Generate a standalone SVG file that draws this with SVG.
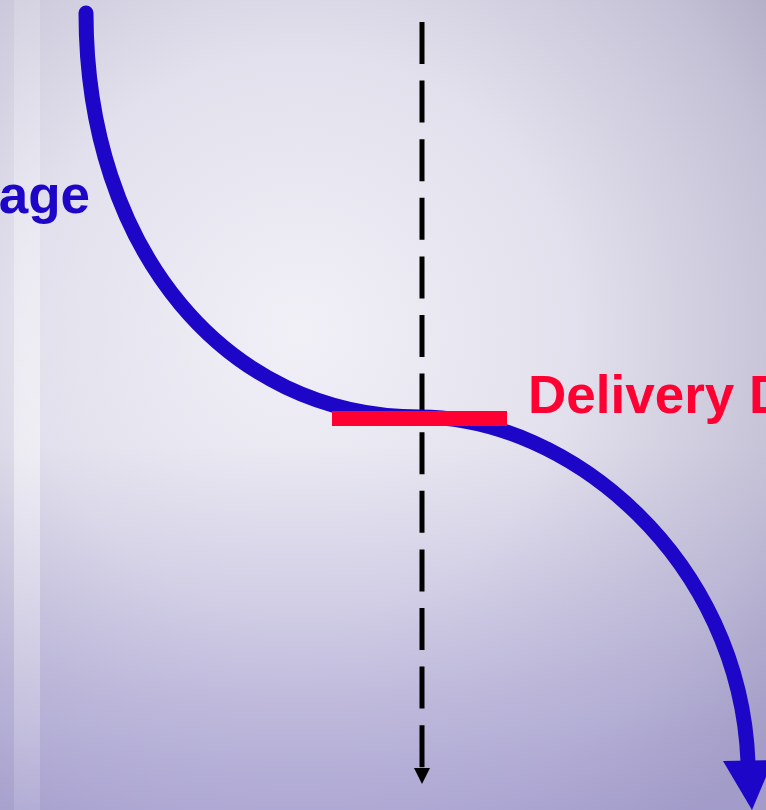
<svg xmlns="http://www.w3.org/2000/svg" width="766" height="810" viewBox="0 0 766 810">
  <defs>
    <radialGradient id="bg" cx="300" cy="330" r="620" gradientUnits="userSpaceOnUse">
      <stop offset="0" stop-color="#f1f0f7"/>
      <stop offset="0.45" stop-color="#e2e0ec"/>
      <stop offset="0.8" stop-color="#c4c1d6"/>
      <stop offset="1" stop-color="#a9a5bf"/>
    </radialGradient>
    <linearGradient id="bottom" x1="0" y1="0" x2="0" y2="1">
      <stop offset="0.55" stop-color="#9c94d2" stop-opacity="0"/>
      <stop offset="1" stop-color="#9c94d2" stop-opacity="0.55"/>
    </linearGradient>
    <linearGradient id="stripe" x1="0" y1="0" x2="0" y2="1">
      <stop offset="0" stop-color="#ffffff" stop-opacity="0.15"/>
      <stop offset="0.55" stop-color="#ffffff" stop-opacity="0.45"/>
      <stop offset="1" stop-color="#ffffff" stop-opacity="0.12"/>
    </linearGradient>
    <style>
      .label { font-family: "Liberation Sans", Arial, sans-serif; font-weight: bold; font-size: 53px; }
      .curve { fill: none; stroke: #1e06c8; stroke-width: 15; stroke-linecap: round; }
      .dash { fill: none; stroke: #000000; stroke-width: 5; stroke-dasharray: 42 16.6; }
    </style>
  </defs>
  <rect x="0" y="0" width="766" height="810" fill="url(#bg)"/>
  <rect x="0" y="0" width="766" height="810" fill="url(#bottom)"/>
  <rect x="14" y="0" width="26" height="810" fill="url(#stripe)"/>

  <g id="connectors">
    <path class="dash" d="M422,22 L422,770"/>
    <polygon points="414,768 430,768 422,784" fill="#000000"/>
  </g>

  <g id="curve">
    <path class="curve" d="M86,13 C86,250 226,417 420,417 C570,417 740,560 748,762"/>
    <polygon points="723,761 773,760 752,810" fill="#1e06c8"/>
  </g>

  <g id="delivery-marker">
    <rect x="332" y="411" width="175" height="15" fill="#ff0033"/>
  </g>

  <g id="label-age">
    <text class="label" x="90" y="213" text-anchor="end" fill="#1e06c8">age</text>
  </g>

  <g id="label-delivery">
    <text class="label" x="528" y="413" fill="#ff0033">Delivery D</text>
  </g>
</svg>
